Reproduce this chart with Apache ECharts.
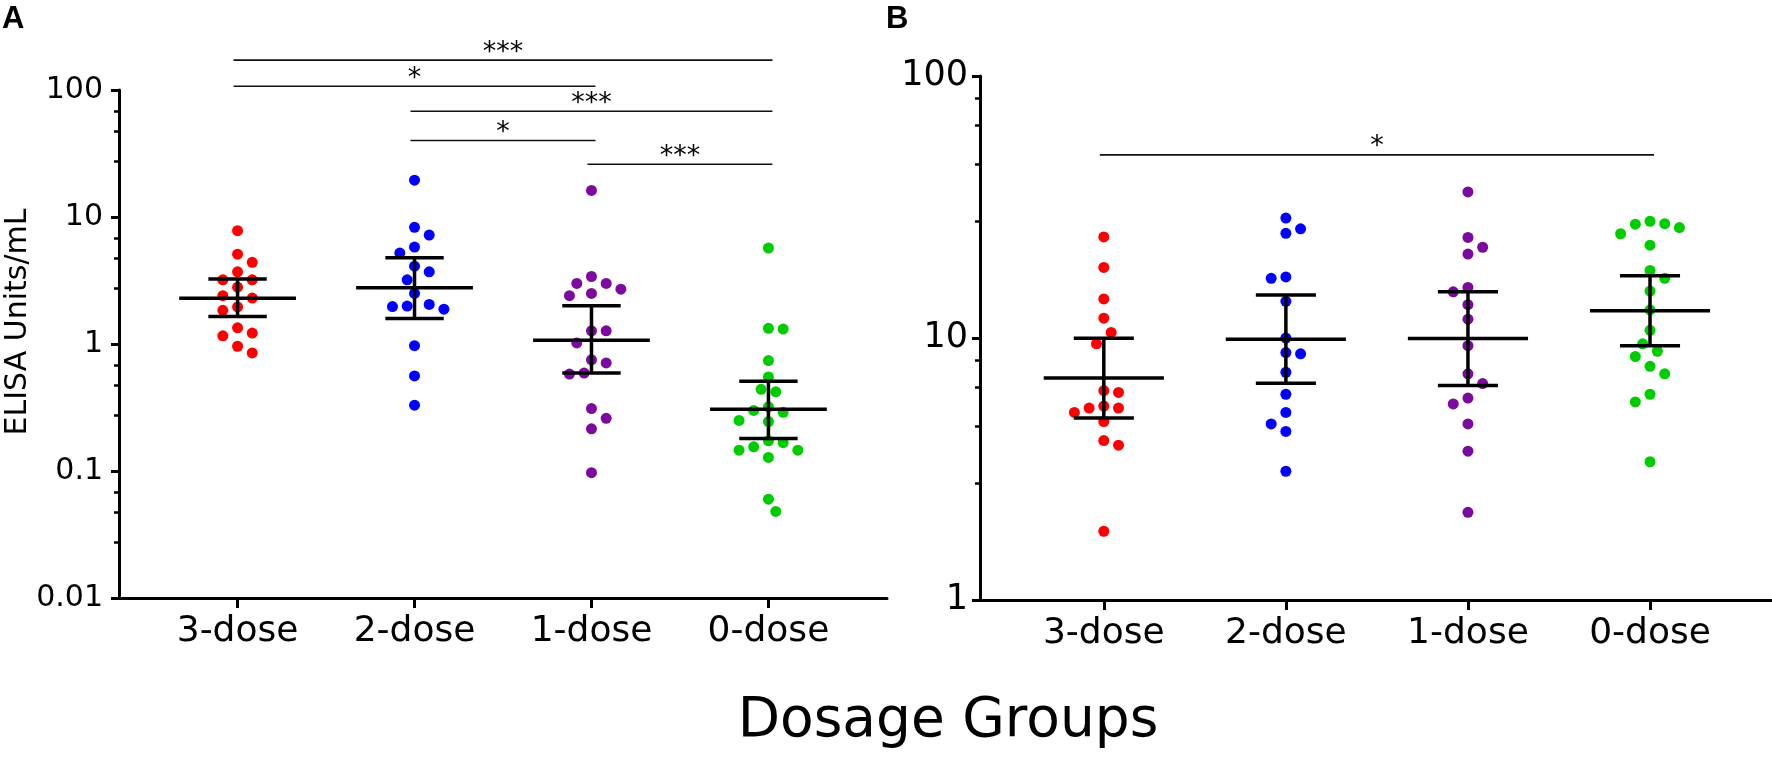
<!DOCTYPE html>
<html>
<head>
<meta charset="utf-8">
<script src="https://cdn.jsdelivr.net/npm/echarts@6/dist/echarts.min.js"></script>
<style>
  html, body { margin: 0; padding: 0; background: #fff; }
  #chart { width: 1772px; height: 757px; }
</style>
</head>
<body>
<div id="chart"></div>
<script>
const groups = ['3-dose', '2-dose', '1-dose', '0-dose'];
const colors = ['#ff0000', '#0000ff', '#7d0a9e', '#00cc00'];

// panel A: ELISA units/mL per subject
const a3 = [7.8, 5.1, 4.4, 3.7, 3.2, 3.2, 2.8, 2.3, 2.4, 1.96, 1.84, 1.34, 1.22, 1.16, 0.96, 0.85];
const a2 = [19.5, 8.3, 7.2, 5.8, 5.2, 4.1, 3.7, 3.2, 2.5, 2.05, 1.97, 1.88, 1.99, 0.97, 0.56, 0.33];
const a1 = [16.2, 3.4, 3.0, 3.0, 2.5, 2.7, 2.4, 1.27, 1.27, 1.02, 0.75, 0.71, 0.59, 0.58, 0.31, 0.26, 0.215, 0.097];
const a0 = [5.7, 1.31, 1.33, 0.74, 0.55, 0.42, 0.44, 0.30, 0.29, 0.32, 0.25, 0.245, 0.173, 0.155, 0.146, 0.146, 0.167, 0.128, 0.060, 0.048];
const meanA = [2.29, 2.77, 1.07, 0.306];
const loA = [1.65, 1.59, 0.59, 0.18];
const hiA = [3.25, 4.78, 2.00, 0.51];

// panel B
const b3 = [24.3, 18.6, 14.1, 11.9, 10.5, 9.5, 6.3, 6.2, 5.5, 5.4, 5.4, 5.2, 4.8, 4.06, 3.9, 1.83];
const b2 = [28.7, 26.1, 25.1, 16.9, 17.1, 13.8, 10.0, 8.8, 8.7, 7.4, 6.1, 5.2, 4.7, 4.4, 3.1];
const b1 = [36.1, 24.2, 22.2, 20.9, 15.6, 15.0, 13.4, 11.8, 9.35, 7.3, 6.7, 5.9, 5.6, 4.7, 3.7, 2.16];
const b0 = [27.9, 27.2, 26.4, 27.3, 25.0, 22.6, 18.1, 16.9, 15.1, 12.8, 10.7, 9.5, 8.9, 8.5, 7.8, 7.3, 6.1, 5.7, 3.37];
const meanB = [7.04, 9.89, 9.95, 12.7];
const loB = [4.95, 6.72, 6.58, 9.35];
const hiB = [9.98, 14.6, 15.0, 17.3];

// significance comparisons (group index from/to, height in axis units, label)
const sigFromA = [0, 0, 1, 1, 2];
const sigToA = [3, 2, 3, 2, 3];
const sigYA = [172, 107, 68, 40, 26];
const sigLabelA = ['***', '*', '***', '*', '***'];
const sigFromB = [0];
const sigToB = [3];
const sigYB = [50];
const sigLabelB = ['*'];

const ticksA = [100, 10, 1, 0.1, 0.01];
const ticksB = [100, 10, 1];
const minorA = [68, 47, 27.5, 6.8, 4.7, 2.75, 0.68, 0.47, 0.275, 0.068, 0.047, 0.0275];
const minorB = [82, 65, 46, 28, 8.2, 6.5, 4.6, 2.8];

const FONT = 'DejaVu Sans';
const chart = echarts.init(document.getElementById('chart'));

const xAxisCfg = (gridIndex, min) => ({
  gridIndex: gridIndex,
  type: 'value',
  min: min,
  max: 3.67,
  axisLine: {show: true, onZero: false, lineStyle: {color: '#000', width: 3}},
  axisTick: {show: true, customValues: [0, 1, 2, 3], length: 10, lineStyle: {color: '#000', width: 3}},
  axisLabel: {
    customValues: [0, 1, 2, 3],
    formatter: v => groups[Math.round(v)],
    fontSize: 36, fontFamily: FONT, color: '#000', margin: 16
  },
  splitLine: {show: false}
});

const yAxisCfg = (gridIndex, min, ticks, fontSize, margin) => ({
  gridIndex: gridIndex,
  type: 'log',
  logBase: 10,
  min: min,
  max: 100,
  position: 'left',
  axisLine: {show: true, onZero: false, lineStyle: {color: '#000', width: 3}},
  axisTick: {show: true, customValues: ticks, length: 8, lineStyle: {color: '#000', width: 3}},
  axisLabel: {
    customValues: ticks,
    formatter: v => String(+v.toPrecision(3)),
    fontSize: fontSize, fontFamily: FONT, color: '#000', margin: margin
  },
  splitLine: {show: false}
});

const minorAxisCfg = (gridIndex, min, ticks) => ({
  gridIndex: gridIndex,
  type: 'log',
  logBase: 10,
  min: min,
  max: 100,
  position: 'left',
  offset: 0,
  axisLine: {show: false, onZero: false},
  axisTick: {show: true, customValues: ticks, length: 5, lineStyle: {color: '#000', width: 2.5}},
  axisLabel: {show: false},
  splitLine: {show: false}
});

function errorBars(api) {
  const x = api.value(0);
  const pm = api.coord([x, api.value(1)]);
  const plo = api.coord([x, api.value(2)]);
  const phi = api.coord([x, api.value(3)]);
  const unit = api.coord([x + 1, api.value(1)])[0] - pm[0];
  const w = unit * 0.33, c = unit * 0.165;
  const style = {stroke: '#000', lineWidth: 3.5};
  return {
    type: 'group',
    children: [
      {type: 'line', shape: {x1: pm[0] - w, y1: pm[1], x2: pm[0] + w, y2: pm[1]}, style: style},
      {type: 'line', shape: {x1: pm[0], y1: phi[1], x2: pm[0], y2: plo[1]}, style: style},
      {type: 'line', shape: {x1: pm[0] - c, y1: phi[1], x2: pm[0] + c, y2: phi[1]}, style: style},
      {type: 'line', shape: {x1: pm[0] - c, y1: plo[1], x2: pm[0] + c, y2: plo[1]}, style: style}
    ]
  };
}

function sigRender(labels) {
  return (params, api) => {
    const p1 = api.coord([api.value(0), api.value(2)]);
    const p2 = api.coord([api.value(1), api.value(2)]);
    return {
      type: 'group',
      children: [
        {type: 'line', shape: {x1: p1[0] - 4, y1: p1[1], x2: p2[0] + 4, y2: p2[1]},
          style: {stroke: '#111', lineWidth: 1.6}},
        {type: 'text', style: {
          text: labels[params.dataIndex], x: (p1[0] + p2[0]) / 2, y: p1[1] + 6,
          align: 'center', verticalAlign: 'bottom', fontSize: 27, fontFamily: FONT, fill: '#000'
        }}
      ]
    };
  };
}

const panelA = [a3, a2, a1, a0];
const panelB = [b3, b2, b1, b0];

function scatterSeries(panel, xi, yi) {
  return panel.map((vals, g) => ({
    type: 'scatter',
    xAxisIndex: xi,
    yAxisIndex: yi,
    symbolSize: 11,
    itemStyle: {color: colors[g], opacity: 1},
    z: 2,
    data: vals.map(v => [g, v])
  }));
}

const option = {
  animation: false,
  backgroundColor: '#fff',
  grid: [
    {left: 119, top: 90, width: 768, height: 508},
    {left: 980, top: 76, width: 792, height: 524}
  ],
  xAxis: [xAxisCfg(0, -0.67), xAxisCfg(1, -0.68)],
  yAxis: [
    yAxisCfg(0, 0.01, ticksA, 30, 16),
    minorAxisCfg(0, 0.01, minorA),
    yAxisCfg(1, 1, ticksB, 35, 12),
    minorAxisCfg(1, 1, minorB)
  ],
  series: [
    ...scatterSeries(panelA, 0, 0),
    ...scatterSeries(panelB, 1, 2),
    {
      type: 'custom', xAxisIndex: 0, yAxisIndex: 0, z: 3, clip: false,
      renderItem: (p, api) => errorBars(api),
      data: groups.map((g, i) => [i, meanA[i], loA[i], hiA[i]])
    },
    {
      type: 'custom', xAxisIndex: 1, yAxisIndex: 2, z: 3, clip: false,
      renderItem: (p, api) => errorBars(api),
      data: groups.map((g, i) => [i, meanB[i], loB[i], hiB[i]])
    },
    {
      type: 'custom', xAxisIndex: 0, yAxisIndex: 0, z: 3, clip: false,
      renderItem: sigRender(sigLabelA),
      data: sigFromA.map((f, i) => [f, sigToA[i], sigYA[i]])
    },
    {
      type: 'custom', xAxisIndex: 1, yAxisIndex: 2, z: 3, clip: false,
      renderItem: sigRender(sigLabelB),
      data: sigFromB.map((f, i) => [f, sigToB[i], sigYB[i]])
    }
  ],
  graphic: [
    {type: 'text', left: 2, top: 4, style: {text: 'A', fontSize: 31, fontWeight: 'bold', fontFamily: 'Liberation Sans', fill: '#000'}},
    {type: 'text', left: 886, top: 4, style: {text: 'B', fontSize: 31, fontWeight: 'bold', fontFamily: 'Liberation Sans', fill: '#000'}},
    {type: 'text', x: 18, y: 322, rotation: Math.PI / 2,
      style: {text: 'ELISA Units/mL', fontSize: 30, fontFamily: FONT, fill: '#000', align: 'center', verticalAlign: 'middle'}},
    {type: 'text', x: 948, y: 722,
      style: {text: 'Dosage Groups', fontSize: 55, fontFamily: FONT, fill: '#000', align: 'center', verticalAlign: 'middle'}}
  ]
};

chart.setOption(option);

// beeswarm: spread points horizontally so dots do not overlap
const STEP = 7.35, MIN_DIST = 14.3;
function swarm(panel, finder) {
  return panel.map((vals, g) => {
    const unit = chart.convertToPixel(finder, [g + 1, 1])[0] - chart.convertToPixel(finder, [g, 1])[0];
    const pts = vals.map((v, i) => ({i: i, v: v, y: chart.convertToPixel(finder, [g, v])[1]}));
    const order = pts.slice().sort((p, q) => p.y - q.y);
    const placed = [];
    let side = 1;
    order.forEach(p => {
      for (let k = 0; k < 40; k++) {
        const cands = k === 0 ? [0] : [side * k, -side * k];
        const ok = cands.find(c => placed.every(q => Math.hypot(q.dx - c * STEP, q.y - p.y) >= MIN_DIST));
        if (ok !== undefined) {
          p.dx = ok * STEP;
          if (ok !== 0) side = -Math.sign(ok);
          break;
        }
      }
      placed.push(p);
    });
    return pts.map(p => [g + p.dx / unit, p.v]);
  });
}

const swA = swarm(panelA, {xAxisIndex: 0, yAxisIndex: 0});
const swB = swarm(panelB, {xAxisIndex: 1, yAxisIndex: 2});
chart.setOption({
  series: [...swA, ...swB].map(d => ({data: d}))
});
</script>
</body>
</html>
